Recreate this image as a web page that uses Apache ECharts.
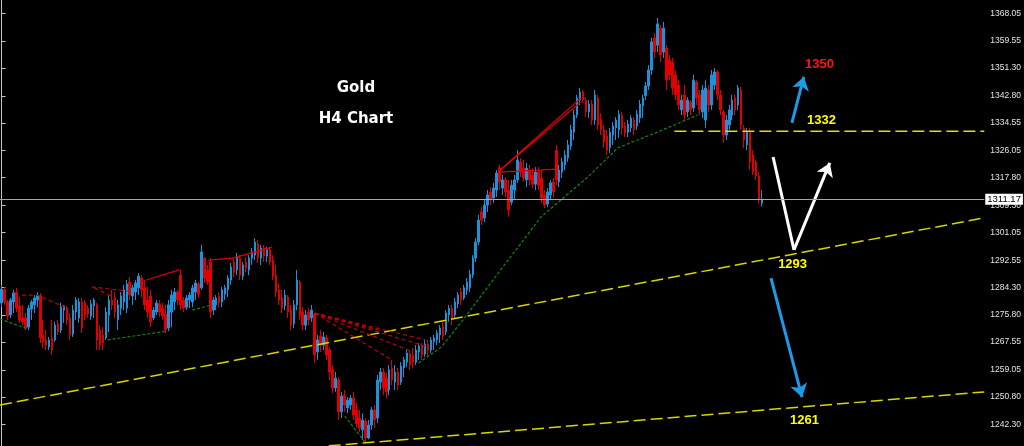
<!DOCTYPE html>
<html><head><meta charset="utf-8">
<script src="https://cdn.jsdelivr.net/npm/echarts@6/dist/echarts.min.js"></script>
<style>html,body{margin:0;padding:0;background:#000;}#c{width:1024px;height:446px;}</style>
</head><body><div id="c"></div>
<script>
// H4 gold bars: [open, close, low, high]
const ohlc = [
[1279.5,1283.7,1278.2,1285.0],[1283.5,1279.8,1278.9,1284.4],[1279.8,1275.5,1274.3,1280.4],[1275.8,1280.4,1274.9,1281.0],
[1279.8,1282.5,1276.4,1283.5],[1282.8,1277.9,1276.7,1284.1],[1278.6,1274.3,1273.4,1281.3],[1274.9,1273.7,1272.8,1278.9],
[1274.9,1271.8,1271.2,1276.4],[1272.1,1277.9,1271.2,1278.9],[1277.6,1279.8,1274.3,1280.4],[1278.9,1281.0,1276.4,1281.9],
[1280.4,1281.9,1278.2,1282.8],[1281.6,1268.8,1267.2,1282.5],[1269.7,1267.6,1265.7,1274.3],[1268.2,1266.6,1265.1,1271.2],
[1266.0,1268.2,1265.1,1269.1],[1268.8,1265.1,1263.6,1274.3],[1268.2,1272.7,1267.6,1273.7],[1273.1,1270.6,1269.7,1274.3],
[1271.2,1278.2,1270.3,1279.5],[1277.3,1278.6,1273.4,1278.9],[1277.9,1274.3,1272.8,1278.6],[1274.9,1269.7,1268.2,1276.4],
[1270.0,1277.3,1269.1,1278.9],[1276.7,1280.4,1274.3,1281.3],[1274.9,1279.8,1273.4,1281.0],[1279.8,1271.8,1270.3,1281.0],
[1279.5,1275.8,1274.3,1280.4],[1277.9,1276.1,1274.9,1278.9],[1275.5,1279.2,1274.3,1280.4],[1278.6,1280.4,1274.9,1281.0],
[1278.9,1268.2,1265.1,1279.5],[1271.2,1266.6,1265.1,1272.7],[1269.7,1267.2,1265.1,1272.1],[1268.8,1276.7,1268.2,1278.2],
[1275.8,1280.4,1270.6,1281.9],[1280.4,1278.9,1277.3,1283.5],[1281.0,1276.7,1274.9,1282.8],[1274.3,1278.9,1271.2,1280.4],
[1277.9,1281.6,1275.8,1282.8],[1279.8,1283.5,1277.3,1285.0],[1277.9,1285.3,1276.4,1286.5],[1285.9,1281.9,1280.4,1287.4],
[1281.6,1284.1,1278.9,1285.0],[1282.8,1285.6,1280.4,1286.5],[1284.1,1287.7,1281.9,1288.6],[1287.1,1283.5,1281.3,1288.0],
[1284.1,1278.9,1277.3,1286.5],[1280.4,1276.7,1274.9,1284.4],[1281.6,1273.7,1272.1,1283.5],[1274.9,1277.3,1274.3,1278.2],
[1276.7,1279.5,1275.8,1280.4],[1279.2,1276.7,1275.2,1280.4],[1277.9,1275.5,1274.3,1279.5],[1276.1,1271.2,1270.3,1278.9],
[1271.8,1278.9,1270.9,1280.4],[1276.7,1281.9,1272.1,1283.5],[1279.8,1282.8,1277.3,1284.1],[1282.8,1280.4,1278.9,1283.5],
[1288.0,1278.9,1277.3,1289.6],[1280.4,1277.9,1276.7,1281.3],[1278.2,1281.0,1277.3,1281.9],[1280.4,1281.9,1277.9,1282.8],
[1279.8,1284.1,1278.2,1285.0],[1282.8,1285.6,1280.4,1286.5],[1285.3,1282.2,1281.0,1285.9],[1284.1,1295.1,1283.5,1297.2],
[1293.2,1287.1,1285.6,1293.5],[1289.6,1285.9,1285.0,1291.1],[1292.0,1276.7,1274.9,1293.2],[1277.3,1280.4,1275.8,1281.3],
[1278.9,1281.0,1277.3,1281.9],[1281.6,1279.5,1278.2,1282.8],[1279.8,1283.5,1278.2,1284.4],[1282.2,1284.1,1280.4,1285.0],
[1283.5,1287.1,1281.3,1288.0],[1286.5,1290.5,1285.0,1291.7],[1292.0,1288.9,1287.4,1293.2],[1289.6,1293.5,1288.0,1294.8],
[1293.2,1288.0,1286.5,1294.1],[1287.7,1291.1,1286.5,1292.0],[1292.0,1290.2,1288.9,1293.5],[1289.6,1293.2,1288.0,1294.1],
[1293.2,1295.1,1291.1,1296.3],[1294.1,1298.1,1292.6,1299.3],[1297.5,1293.2,1291.7,1298.7],[1293.2,1296.3,1291.1,1297.2],
[1296.3,1293.8,1292.0,1297.2],[1293.8,1295.7,1292.0,1296.6],[1295.7,1292.0,1291.1,1296.6],[1292.6,1287.7,1286.5,1294.1],
[1288.0,1282.8,1281.3,1291.1],[1283.5,1280.4,1278.9,1285.6],[1281.0,1277.9,1276.4,1283.5],[1278.6,1281.9,1277.3,1283.5],
[1281.3,1276.7,1274.9,1281.9],[1277.3,1272.7,1271.2,1278.9],[1273.1,1278.9,1271.8,1280.4],[1278.9,1286.5,1277.3,1289.6],
[1285.9,1275.8,1274.3,1286.5],[1276.7,1272.7,1271.2,1278.2],[1272.7,1275.8,1271.2,1277.3],[1276.7,1274.3,1272.7,1277.9],
[1274.9,1277.3,1273.7,1278.9],[1276.1,1263.6,1261.1,1276.4],[1264.5,1268.2,1262.1,1269.7],[1269.4,1266.6,1264.5,1271.2],
[1266.6,1269.1,1265.1,1270.6],[1268.8,1263.6,1262.1,1269.7],[1265.1,1258.4,1255.9,1266.0],[1259.0,1253.5,1251.9,1260.5],
[1253.5,1256.5,1252.3,1258.4],[1255.9,1246.2,1243.7,1256.8],[1246.2,1251.0,1244.3,1252.3],[1251.3,1248.3,1246.2,1252.9],
[1247.4,1249.8,1245.8,1250.7],[1248.3,1250.4,1246.8,1251.3],[1250.4,1245.2,1243.7,1252.3],[1246.8,1242.5,1241.3,1248.9],
[1244.3,1241.3,1240.0,1246.8],[1240.7,1243.7,1237.6,1245.8],[1243.4,1238.2,1236.6,1244.3],[1238.2,1242.2,1237.8,1243.7],
[1242.2,1246.8,1240.7,1247.7],[1246.8,1243.7,1241.3,1248.3],[1244.3,1255.9,1242.8,1257.5],[1255.3,1258.4,1252.9,1259.6],
[1258.4,1253.5,1251.3,1259.6],[1256.5,1252.3,1250.4,1258.1],[1252.9,1259.0,1251.3,1260.5],[1259.6,1255.9,1254.4,1262.1],
[1255.3,1258.4,1252.9,1260.5],[1258.4,1254.4,1252.9,1259.6],[1255.3,1260.2,1254.4,1261.4],[1259.6,1262.1,1256.8,1263.0],
[1261.4,1264.2,1259.9,1265.1],[1263.9,1260.5,1259.0,1265.1],[1263.6,1261.4,1259.6,1265.7],[1261.4,1265.1,1260.5,1266.6],
[1264.5,1266.3,1262.1,1267.2],[1266.3,1263.6,1262.1,1267.2],[1263.9,1266.9,1263.0,1268.2],[1266.9,1265.1,1263.3,1268.2],
[1265.1,1268.2,1264.2,1269.1],[1267.6,1268.8,1265.1,1269.7],[1268.2,1270.3,1266.6,1271.2],[1269.7,1271.8,1267.2,1272.7],
[1272.4,1269.4,1268.2,1273.7],[1270.6,1276.4,1269.7,1277.3],[1275.8,1277.9,1273.7,1278.9],[1277.9,1274.9,1272.7,1278.9],
[1275.8,1279.8,1274.9,1281.0],[1279.2,1281.9,1277.9,1282.8],[1282.8,1280.4,1278.9,1284.1],[1281.0,1284.1,1280.4,1285.0],
[1283.5,1285.9,1281.9,1287.1],[1284.1,1288.3,1282.8,1289.6],[1288.0,1293.2,1287.1,1294.1],[1293.2,1298.1,1292.0,1299.3],
[1298.1,1304.8,1297.2,1306.4],[1307.3,1304.8,1303.3,1308.8],[1305.5,1309.4,1304.2,1311.0],[1309.4,1312.5,1307.3,1314.0],
[1313.4,1311.0,1309.4,1314.9],[1311.6,1314.6,1310.0,1316.2],[1314.0,1319.2,1311.9,1320.1],[1320.8,1316.5,1314.0,1321.7],
[1314.6,1317.1,1312.5,1318.6],[1317.1,1313.4,1311.9,1318.0],[1314.0,1307.9,1305.8,1317.1],[1310.3,1315.5,1309.4,1317.1],
[1314.0,1317.1,1311.0,1318.6],[1317.1,1323.2,1316.2,1326.2],[1322.6,1319.5,1318.0,1323.8],[1320.7,1317.7,1316.5,1323.2],
[1317.1,1320.7,1314.9,1322.3],[1320.1,1317.1,1315.5,1321.7],[1318.6,1315.8,1314.6,1320.7],[1315.8,1319.5,1314.0,1321.0],
[1319.5,1315.5,1314.0,1321.0],[1317.7,1311.6,1310.0,1320.1],[1312.5,1309.4,1308.5,1314.0],[1309.7,1313.4,1308.8,1314.6],
[1312.5,1316.2,1311.0,1317.1],[1316.5,1313.4,1311.6,1317.7],[1326.2,1317.1,1315.5,1327.8],[1316.5,1320.1,1314.9,1321.7],
[1319.5,1322.6,1317.7,1323.8],[1321.7,1324.7,1320.1,1326.2],[1323.8,1327.8,1322.6,1329.3],[1327.5,1332.4,1326.2,1333.9],
[1331.7,1336.9,1329.3,1338.5],[1336.9,1342.1,1336.0,1343.1],[1341.5,1344.0,1340.0,1345.2],[1344.0,1341.5,1340.6,1344.6],
[1341.5,1337.9,1336.3,1342.4],[1337.9,1340.3,1336.0,1341.5],[1340.3,1335.4,1333.9,1341.5],[1335.4,1343.1,1333.9,1344.6],
[1342.1,1333.9,1332.4,1343.1],[1335.4,1332.4,1330.8,1337.5],[1332.4,1328.7,1326.9,1333.9],[1330.5,1326.2,1324.7,1332.4],
[1326.9,1331.7,1325.3,1333.0],[1330.8,1333.6,1327.8,1334.8],[1333.0,1335.4,1329.3,1336.3],[1332.4,1337.2,1329.9,1338.5],
[1336.9,1333.0,1330.8,1337.9],[1333.6,1331.4,1330.2,1334.8],[1331.7,1334.2,1330.2,1335.4],[1333.0,1336.0,1331.7,1336.9],
[1335.4,1332.4,1330.8,1336.3],[1333.6,1337.2,1332.4,1338.5],[1336.0,1340.3,1334.5,1341.5],[1339.7,1342.1,1336.0,1343.1],
[1342.8,1345.8,1341.5,1347.0],[1345.8,1350.7,1344.6,1352.2],[1350.7,1359.3,1349.2,1360.5],[1360.5,1356.2,1354.4,1362.0],
[1358.3,1364.8,1356.2,1366.6],[1363.5,1355.3,1353.1,1364.5],[1356.2,1363.5,1354.4,1365.4],[1357.4,1347.6,1344.6,1358.3],
[1353.8,1349.2,1347.6,1355.3],[1353.1,1345.2,1343.1,1354.4],[1349.2,1343.1,1341.5,1350.7],[1346.1,1340.0,1338.5,1347.6],
[1338.5,1341.5,1336.9,1343.1],[1343.1,1336.9,1335.4,1346.1],[1337.9,1341.5,1336.3,1342.4],[1340.9,1338.5,1336.9,1341.5],
[1339.1,1347.6,1337.9,1349.2],[1347.0,1342.1,1340.0,1347.6],[1343.1,1338.5,1336.9,1344.6],[1337.9,1344.6,1336.0,1346.1],
[1335.4,1345.2,1333.0,1347.6],[1344.6,1340.0,1337.9,1346.1],[1340.0,1349.2,1338.5,1350.7],[1346.1,1350.1,1344.6,1351.3],
[1350.1,1343.1,1341.5,1350.7],[1343.1,1338.5,1336.9,1344.6],[1337.9,1330.8,1328.4,1338.5],[1330.8,1335.4,1329.3,1336.9],
[1333.9,1338.5,1332.4,1340.0],[1336.9,1341.5,1335.4,1343.1],[1342.1,1338.5,1336.9,1343.1],[1340.0,1345.2,1338.5,1346.1],
[1344.6,1333.9,1332.4,1345.5],[1333.0,1329.3,1326.9,1333.9],[1327.8,1331.7,1326.2,1333.0],[1331.7,1322.6,1320.1,1333.0],
[1324.7,1319.5,1318.6,1326.2],[1322.6,1318.3,1317.1,1323.2],[1318.3,1311.0,1309.8,1319.5],[1310.0,1311.17,1309.0,1314.0]
];
const slotCount = 330;                 // bar slots across the chart (incl. empty right shift)
const barSlots = Array.from({length: slotCount}, (_, i) => String(i));
const yTickValues = [1368.05,1359.55,1351.30,1342.80,1334.55,1326.05,1317.80,1309.30,1301.05,1292.55,1284.30,1275.80,1267.55,1259.05,1250.80,1242.30];
const yMin = 1235.76, yMax = 1372.10;
const lastPrice = 1311.17;

// drawn objects, in [bar index, price]
const trendUpper = [[-0.5,1248.3],[329.5,1305.5]];
const trendLower = [[109.7,1235.8],[329.5,1252.3]];
const level1332 = [[225.6,1332.0],[329.5,1332.0]];
const greenLines = [
  [[-0.5,1274.6],[8.85,1271.5]],
  [[35.6,1268.2],[55.6,1270.9]],
  [[64.0,1277.3],[70.6,1278.9]],
  [[115.1,1244.9],[122.1,1236.7]],
  [[139.8,1261.1],[147.5,1266.0],[155.5,1275.2],[164.8,1286.5],[180.9,1305.8],[196.6,1318.0],[206.6,1326.9],[219.9,1331.7],[233.3,1336.9]]
];
const redDotted = [
  [[6.85,1281.9],[11.86,1281.9],[21.2,1278.2]],
  [[30.2,1284.4],[42.3,1283.1]],
  [[31.2,1284.1],[37.2,1281.3]],
  [[105.0,1276.4],[127.4,1270.9]],
  [[105.0,1276.4],[142.1,1268.2]],
  [[105.0,1276.4],[142.1,1266.3]],
  [[105.0,1276.4],[138.1,1264.5]],
  [[105.0,1276.4],[130.8,1262.1]]
];
const redSolid = [
  [[48.6,1286.5],[59.6,1289.6]],
  [[69.3,1292.6],[77.3,1293.2],[85.3,1295.1],[90.7,1296.6]],
  [[166.5,1319.5],[194.2,1342.1]],
  [[166.5,1319.5],[194.2,1340.9]],
  [[166.5,1319.5],[186.5,1320.4]]
];
const blueArrows = [
  [[265.0,1334.5],[269.0,1348.6]],
  [[258.0,1287.1],[268.4,1250.7]]
];
const whiteDown = [[258.7,1324.1],[265.7,1295.7]];
const whiteUp = [[265.7,1295.7],[277.7,1322.3]];
const targetNames = ['1350','1332','1293','1261'];
const targetPoints = [[274.4,1352.2],[275.1,1335.1],[265.4,1291.1],[269.4,1243.4]];

const UP = '#1d92dc', DOWN = '#e00000';
const chart = echarts.init(document.getElementById('c'), null, {renderer: 'canvas'});

function lineSeries(pts, color, type, width, z) {
  return {type: 'line', xAxisIndex: 1, yAxisIndex: 0, data: pts, showSymbol: false, symbol: 'none',
    silent: true, animation: false, z: z || 4,
    lineStyle: {color: color, width: width, type: type}};
}
function arrowSeries(segs, color, head) {
  return {type: 'lines', coordinateSystem: 'cartesian2d', xAxisIndex: 1, yAxisIndex: 0, polyline: false,
    silent: true, animation: false, z: 6, symbol: ['none', head ? 'arrow' : 'none'], symbolSize: 13,
    lineStyle: {color: color, width: 3, opacity: 1, curveness: 0},
    data: segs.map(c => ({coords: c}))};
}

const series = [{
  type: 'candlestick', xAxisIndex: 0, yAxisIndex: 0, data: ohlc, barWidth: 2, z: 3,
  itemStyle: {color: UP, color0: DOWN, borderColor: UP, borderColor0: DOWN, borderColorDoji: UP, borderWidth: 1},
  markLine: {
    silent: true, symbol: 'none', animation: false, z: 10,
    data: [{yAxis: lastPrice}],
    lineStyle: {color: '#a8a8a8', width: 1, type: 'solid'},
    label: {show: true, position: 'end', distance: 1, formatter: () => lastPrice.toFixed(2),
      backgroundColor: '#ffffff', color: '#000000', fontSize: 9.5, fontFamily: 'Liberation Sans',
      padding: [1, 2, 0, 2]}
  }
}];
series.push(lineSeries(trendUpper, '#d6d600', [12, 5], 1.5));
series.push(lineSeries(trendLower, '#d6d600', [12, 5], 1.5));
series.push(lineSeries(level1332, '#e0e000', [12, 5], 1.5));
greenLines.forEach(p => series.push(lineSeries(p, '#0b8a0b', [3, 2], 1.2)));
redDotted.forEach(p => series.push(lineSeries(p, '#c40000', [4, 3], 1.2)));
redSolid.forEach(p => series.push(lineSeries(p, '#e00000', 'solid', 1.2)));
series.push(arrowSeries(blueArrows, '#1e9be6', true));
series.push(arrowSeries([whiteDown], '#ffffff', false));
series.push(arrowSeries([whiteUp], '#ffffff', true));
series.push({
  type: 'scatter', xAxisIndex: 1, yAxisIndex: 0, silent: true, animation: false, z: 7,
  symbolSize: 1, itemStyle: {color: 'rgba(0,0,0,0)', opacity: 1},
  data: targetPoints.map((p, i) => ({
    value: p, name: targetNames[i],
    label: {color: i === 0 ? '#ff1414' : '#ffff00'}
  })),
  label: {show: true, position: [0, 0], align: 'center', verticalAlign: 'middle', formatter: p => p.name,
    fontFamily: 'Liberation Sans', fontWeight: 'bold', fontSize: 13, opacity: 1,
    textBorderWidth: 0}
});

chart.setOption({
  backgroundColor: '#000000',
  animation: false,
  grid: {left: 0, right: 36, top: 0, bottom: 0, containLabel: false},
  xAxis: [
    {type: 'category', data: barSlots, boundaryGap: true, show: false},
    {type: 'value', min: -0.5, max: slotCount - 0.5, show: false}
  ],
  yAxis: {
    type: 'value', position: 'right', min: yMin, max: yMax,
    splitLine: {show: false},
    axisLine: {show: true, lineStyle: {color: '#c8c8c8', width: 1}},
    axisTick: {show: true, length: 4, customValues: yTickValues, lineStyle: {color: '#c8c8c8'}},
    axisLabel: {show: true, customValues: yTickValues, formatter: v => v.toFixed(2),
      color: '#e4e4e4', fontSize: 8.5, fontFamily: 'Liberation Sans', margin: 6}
  },
  graphic: [
    {type: 'text', x: 356, y: 88, style: {text: 'Gold', fill: '#ffffff', font: 'bold 15px "DejaVu Sans"', align: 'center', verticalAlign: 'middle'}},
    {type: 'text', x: 356, y: 119, style: {text: 'H4 Chart', fill: '#ffffff', font: 'bold 15px "DejaVu Sans"', align: 'center', verticalAlign: 'middle'}}
  ],
  series: series
});
</script>
</body></html>
